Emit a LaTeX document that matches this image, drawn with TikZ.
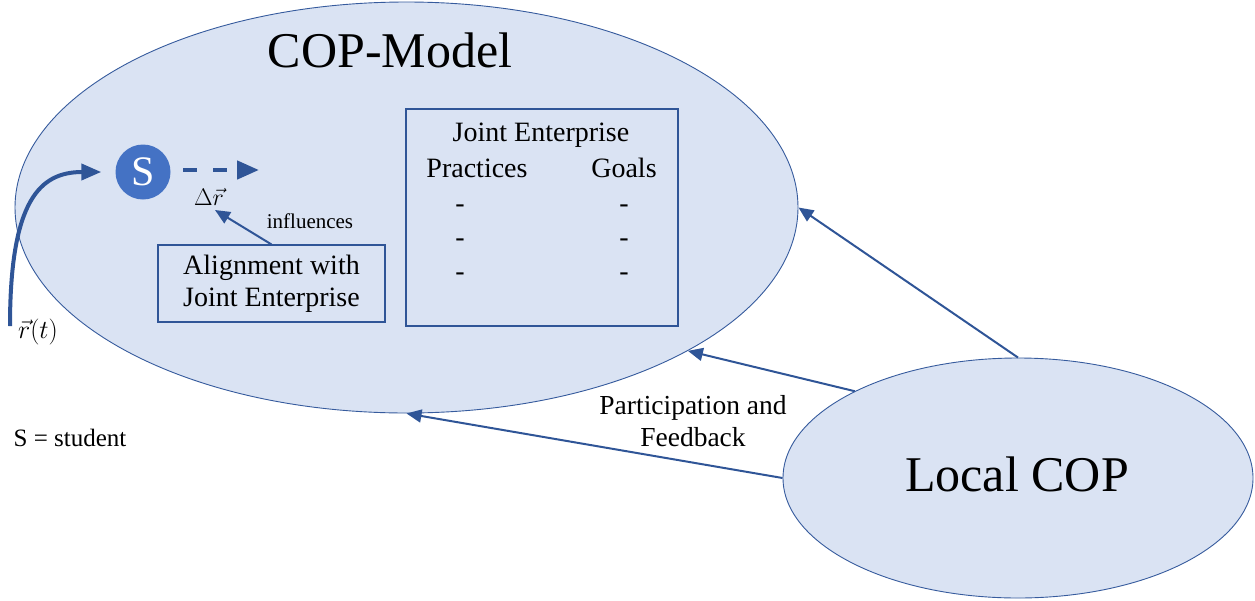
\documentclass[tikz,border=0pt]{standalone}
\usepackage{fix-cm}
\usepackage{fontspec}
\setmainfont{Liberation Serif}
\usetikzlibrary{shapes.geometric,arrows.meta}
\definecolor{lightfill}{HTML}{DAE3F3}
\definecolor{officeblue}{HTML}{4472C4}
\definecolor{darkblue}{HTML}{2F5597}
\newcommand{\fs}[1]{\fontsize{#1}{1.15\dimexpr#1pt\relax}\selectfont}
\tikzset{
  bigell/.style={ellipse, draw=officeblue!80!black, line width=0.9pt, fill=lightfill, inner sep=0pt},
  boxed/.style={draw=darkblue, line width=1.1pt, inner sep=0pt},
  conn/.style={draw=darkblue, line width=2pt, -{Triangle[length=15pt,width=13pt]}},
  txt/.style={inner sep=0pt, text=black},
  dashtxt/.style={txt, font=\fs{28}, yshift=-6pt},
}
\begin{document}
\begin{tikzpicture}[x=1pt,y=-1pt]
\useasboundingbox (0,0) rectangle (1255,600);
% ellipses
\node[bigell, minimum width=783pt, minimum height=411pt] (cop) at (406.5,207.5) {};
\node[bigell, minimum width=470pt, minimum height=240pt] (local) at (1018,478) {};
\node[txt, font=\fs{50}] (coptitle) at (390,50) {COP-Model};
\node[txt, font=\fs{50}] (localtitle) at (1017,474) {Local COP};
% joint enterprise box
\node[boxed, minimum width=272pt, minimum height=217pt] (joint) at (542,217.5) {};
\node[txt, font=\fs{28}] (jet) at (541,135) {Joint Enterprise};
\node[txt, font=\fs{28}] (prac) at (477,168) {Practices};
\node[txt, font=\fs{28}] (goals) at (624,168) {Goals};
\node[dashtxt] (p1) at (460,203) {-};
\node[dashtxt] (p2) at (460,237) {-};
\node[dashtxt] (p3) at (460,271) {-};
\node[dashtxt] (g1) at (624,203) {-};
\node[dashtxt] (g2) at (624,237) {-};
\node[dashtxt] (g3) at (624,271) {-};
% alignment box
\node[boxed, minimum width=227pt, minimum height=77pt, align=center, font=\fs{28}, text=black] (align) at (271.5,283.5) {Alignment with\\Joint Enterprise};
% student
\node[circle, fill=officeblue, minimum size=55pt, inner sep=0pt, text=white, font=\fs{42}] (S) at (143,172) {S};
\coordinate (dashend) at (259,170);
\draw[darkblue, line width=4.5pt, dash pattern=on 14pt off 16pt, shorten <=12.5pt, -{Triangle[length=22pt,width=18pt]}] (S.east |- dashend) -- (dashend);
\node[txt, font=\fs{24}] (dr) at (209,197) {$\Delta\vec{r}$};
\coordinate (drtip) at (215,210);
\draw[conn] (align.north) -- (drtip);
\node[txt, font=\fs{21}] (infl) at (310,221) {influences};
% trajectory
\coordinate (rstart) at (10,326);
\draw[darkblue, line width=4pt, shorten >=14pt, -{Triangle[length=20pt,width=16pt]}] (rstart) .. controls (10,200) and (40,172) .. (S.west);
\node[txt, font=\fs{26}] (rt) at (38,332) {$\vec{r}(t)$};
\node[txt, font=\fs{25}] (legend) at (70,438) {S = student};
% feedback arrows
\draw[conn] (local.north) -- (cop.-0.7);
\draw[conn] (local.152.5) -- (cop.-27.7);
\draw[conn] (local.west) -- (cop.south);
\node[txt, align=center, font=\fs{27.5}] (fb) at (693,421) {Participation and\\Feedback};
\end{tikzpicture}
\end{document}
